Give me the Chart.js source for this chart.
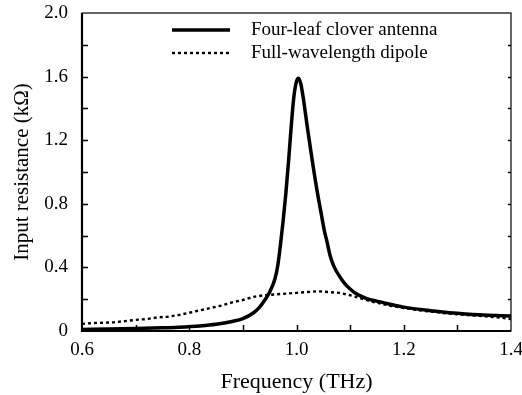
<!DOCTYPE html>
<html>
<head>
<meta charset="utf-8">
<script src="https://cdn.jsdelivr.net/npm/chart.js@4/dist/chart.umd.min.js"></script>
<style>
  html, body { margin: 0; padding: 0; background: #fff; }
  #wrap { width: 522px; height: 395px; position: relative; }
</style>
</head>
<body>
<div id="wrap"><canvas id="c" width="522" height="395"></canvas></div>
<script>
// ---- Data ----
const seriesNames = ["Four-leaf clover antenna", "Full-wavelength dipole"];

const cloverFreq = [0.60, 0.65, 0.70, 0.75, 0.78, 0.82, 0.85, 0.88, 0.90, 0.92, 0.93, 0.94, 0.95, 0.96, 0.965, 0.97, 0.975, 0.98, 0.985, 0.99, 0.995, 1.000, 1.004, 1.008, 1.012, 1.017, 1.022, 1.029, 1.035, 1.040, 1.046, 1.052, 1.057, 1.063, 1.070, 1.080, 1.090, 1.100, 1.110, 1.130, 1.160, 1.200, 1.250, 1.300, 1.350, 1.400];
const cloverRes  = [0.010, 0.012, 0.015, 0.020, 0.024, 0.032, 0.042, 0.060, 0.078, 0.115, 0.145, 0.190, 0.245, 0.330, 0.410, 0.540, 0.690, 0.860, 1.060, 1.280, 1.470, 1.570, 1.590, 1.555, 1.480, 1.360, 1.240, 1.080, 0.950, 0.850, 0.740, 0.630, 0.560, 0.470, 0.405, 0.345, 0.298, 0.264, 0.237, 0.205, 0.180, 0.150, 0.128, 0.112, 0.100, 0.095];

const dipoleFreq = [0.60, 0.62, 0.64, 0.66, 0.68, 0.70, 0.72, 0.74, 0.76, 0.78, 0.80, 0.82, 0.84, 0.86, 0.88, 0.90, 0.92, 0.94, 0.96, 0.98, 1.00, 1.02, 1.04, 1.06, 1.08, 1.10, 1.12, 1.14, 1.16, 1.18, 1.20, 1.22, 1.24, 1.26, 1.28, 1.30, 1.32, 1.34, 1.36, 1.38, 1.40];
const dipoleRes  = [0.045, 0.050, 0.052, 0.055, 0.062, 0.070, 0.075, 0.085, 0.090, 0.100, 0.115, 0.130, 0.145, 0.160, 0.180, 0.195, 0.215, 0.225, 0.230, 0.235, 0.240, 0.245, 0.250, 0.245, 0.240, 0.225, 0.205, 0.185, 0.170, 0.155, 0.145, 0.135, 0.125, 0.120, 0.110, 0.105, 0.100, 0.095, 0.090, 0.085, 0.075];

const xTickValues = [0.6, 0.8, 1.0, 1.2, 1.4];
const yTickValues = [0, 0.4, 0.8, 1.2, 1.6, 2.0];

const FONT = "'Liberation Serif', 'Times New Roman', serif";

const toPoints = (xs, ys) => xs.map((x, i) => ({ x: x, y: ys[i] }));

// Frame, inward ticks and legend
const decorPlugin = {
  id: 'decor',
  afterDraw(chart) {
    const ctx = chart.ctx;
    const a = chart.chartArea;
    const xs = chart.scales.x, ys = chart.scales.y;
    ctx.save();
    ctx.strokeStyle = '#000';
    // frame
    ctx.lineWidth = 1.2;
    ctx.strokeRect(a.left, a.top, a.right - a.left, a.bottom - a.top);
    ctx.lineWidth = 2.2;
    ctx.beginPath();
    ctx.moveTo(a.left, a.top); ctx.lineTo(a.left, a.bottom); ctx.lineTo(a.right, a.bottom);
    ctx.stroke();
    // x ticks every 0.1 (inward)
    ctx.lineWidth = 1.5;
    for (let v = 0.7; v < 1.4 - 1e-9; v += 0.1) {
      const px = Math.round(xs.getPixelForValue(v)) + 0.5;
      ctx.beginPath(); ctx.moveTo(px, a.bottom); ctx.lineTo(px, a.bottom - 6); ctx.stroke();
    }
    // y ticks every 0.2 (inward)
    for (let v = 0.2; v < 2.0 - 1e-9; v += 0.2) {
      const py = Math.round(ys.getPixelForValue(v)) + 0.5;
      ctx.beginPath(); ctx.moveTo(a.left, py); ctx.lineTo(a.left + 6, py); ctx.stroke();
      ctx.beginPath(); ctx.moveTo(a.right, py); ctx.lineTo(a.right - 3, py); ctx.stroke();
    }
    // legend
    const ds = chart.data.datasets;
    const rows = [30, 53];
    ds.forEach((d, i) => {
      const y = rows[i];
      ctx.lineWidth = d.borderWidth;
      ctx.setLineDash(d.borderDash || []);
      ctx.beginPath(); ctx.moveTo(172, y); ctx.lineTo(230, y); ctx.stroke();
      ctx.setLineDash([]);
      ctx.fillStyle = '#000';
      ctx.font = '19px ' + FONT;
      ctx.textBaseline = 'middle';
      ctx.textAlign = 'left';
      ctx.fillText(d.label, 251, y);
    });
    ctx.restore();
  }
};

new Chart(document.getElementById('c'), {
  type: 'line',
  data: {
    datasets: [
      {
        label: seriesNames[0],
        data: toPoints(cloverFreq, cloverRes),
        borderColor: '#000',
        borderWidth: 3.5,
        pointRadius: 0,
        cubicInterpolationMode: 'monotone',
        fill: false
      },
      {
        label: seriesNames[1],
        data: toPoints(dipoleFreq, dipoleRes),
        borderColor: '#000',
        borderWidth: 2.4,
        borderDash: [3, 3],
        pointRadius: 0,
        tension: 0,
        fill: false
      }
    ]
  },
  plugins: [decorPlugin],
  options: {
    responsive: false,
    animation: false,
    layout: { padding: { top: 13, right: 11, left: 0, bottom: 0 } },
    plugins: { legend: { display: false }, tooltip: { enabled: false } },
    scales: {
      x: {
        type: 'linear',
        min: 0.6, max: 1.4,
        afterBuildTicks: (s) => { s.ticks = xTickValues.map(v => ({ value: v })); },
        ticks: {
          font: { family: FONT, size: 19 },
          color: '#000',
          padding: 8,
          maxRotation: 0,
          callback: (v) => Number(v).toFixed(1)
        },
        grid: { display: false, drawTicks: false },
        border: { display: false },
        title: {
          display: true,
          text: 'Frequency (THz)',
          font: { family: FONT, size: 22 },
          color: '#000',
          padding: { top: 4, bottom: 0 }
        },
        afterFit: (s) => { s.height = 64; s.paddingLeft = 0; s.paddingRight = 0; }
      },
      y: {
        type: 'linear',
        min: 0, max: 2.0,
        afterBuildTicks: (s) => { s.ticks = yTickValues.map(v => ({ value: v })); },
        ticks: {
          font: { family: FONT, size: 19 },
          color: '#000',
          padding: 14,
          callback: (v) => (v === 0 ? '0' : Number(v).toFixed(1))
        },
        grid: { display: false, drawTicks: false },
        border: { display: false },
        title: {
          display: true,
          text: 'Input resistance (kΩ)',
          font: { family: FONT, size: 21 },
          color: '#000',
          padding: { top: 10, bottom: 8 }
        },
        afterFit: (s) => { s.width = 82; s.paddingTop = 0; s.paddingBottom = 0; }
      }
    }
  }
});
</script>
</body>
</html>
